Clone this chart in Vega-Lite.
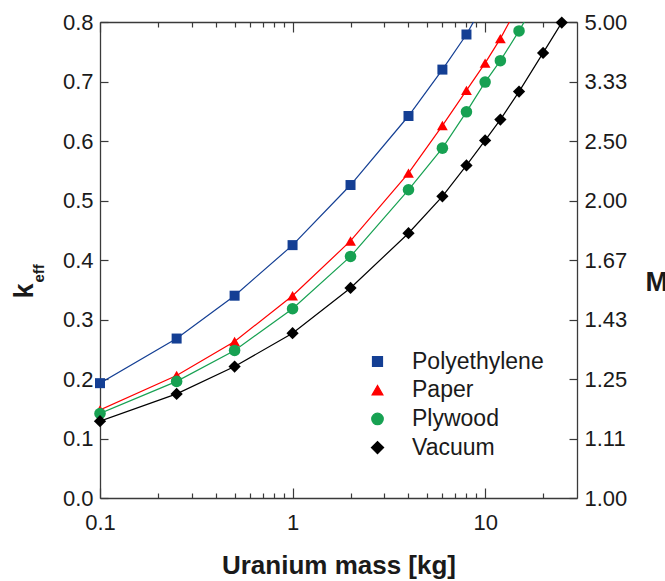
{
  "$schema": "https://vega.github.io/schema/vega-lite/v6.json",
  "width": 477,
  "height": 476,
  "autosize": {"type": "none"},
  "padding": {"left": 100, "top": 22, "right": 88, "bottom": 83},
  "background": "white",
  "config": {
    "view": {"stroke": null},
    "font": "Liberation Sans",
    "axis": {
      "grid": false,
      "domainColor": "#3a3a3a",
      "domainWidth": 1.3,
      "tickColor": "#3a3a3a",
      "tickWidth": 1.2,
      "labelFont": "Liberation Sans",
      "labelFontSize": 22,
      "labelColor": "#1a1a1a",
      "titleFont": "Liberation Sans",
      "titleColor": "#1a1a1a",
      "titleFontWeight": "bold"
    }
  },
  "data": {
    "values": [
      {"s": "Polyethylene", "m": 0.1, "k": 0.193},
      {"s": "Polyethylene", "m": 0.25, "k": 0.268},
      {"s": "Polyethylene", "m": 0.5, "k": 0.340},
      {"s": "Polyethylene", "m": 1, "k": 0.425},
      {"s": "Polyethylene", "m": 2, "k": 0.526},
      {"s": "Polyethylene", "m": 4, "k": 0.642},
      {"s": "Polyethylene", "m": 6, "k": 0.720},
      {"s": "Polyethylene", "m": 8, "k": 0.779},
      {"s": "Polyethylene", "m": 10, "k": 0.835},
      {"s": "Paper", "m": 0.1, "k": 0.148},
      {"s": "Paper", "m": 0.25, "k": 0.206},
      {"s": "Paper", "m": 0.5, "k": 0.263},
      {"s": "Paper", "m": 1, "k": 0.340},
      {"s": "Paper", "m": 2, "k": 0.432},
      {"s": "Paper", "m": 4, "k": 0.546},
      {"s": "Paper", "m": 6, "k": 0.626},
      {"s": "Paper", "m": 8, "k": 0.685},
      {"s": "Paper", "m": 10, "k": 0.731},
      {"s": "Paper", "m": 12, "k": 0.772},
      {"s": "Paper", "m": 15, "k": 0.830},
      {"s": "Plywood", "m": 0.1, "k": 0.142},
      {"s": "Plywood", "m": 0.25, "k": 0.196},
      {"s": "Plywood", "m": 0.5, "k": 0.248},
      {"s": "Plywood", "m": 1, "k": 0.318},
      {"s": "Plywood", "m": 2, "k": 0.406},
      {"s": "Plywood", "m": 4, "k": 0.518},
      {"s": "Plywood", "m": 6, "k": 0.588},
      {"s": "Plywood", "m": 8, "k": 0.649},
      {"s": "Plywood", "m": 10, "k": 0.699},
      {"s": "Plywood", "m": 12, "k": 0.735},
      {"s": "Plywood", "m": 15, "k": 0.785},
      {"s": "Plywood", "m": 20, "k": 0.855},
      {"s": "Vacuum", "m": 0.1, "k": 0.129},
      {"s": "Vacuum", "m": 0.25, "k": 0.175},
      {"s": "Vacuum", "m": 0.5, "k": 0.221},
      {"s": "Vacuum", "m": 1, "k": 0.277},
      {"s": "Vacuum", "m": 2, "k": 0.353},
      {"s": "Vacuum", "m": 4, "k": 0.445},
      {"s": "Vacuum", "m": 6, "k": 0.507},
      {"s": "Vacuum", "m": 8, "k": 0.559},
      {"s": "Vacuum", "m": 10, "k": 0.601},
      {"s": "Vacuum", "m": 12, "k": 0.636},
      {"s": "Vacuum", "m": 15, "k": 0.683},
      {"s": "Vacuum", "m": 20, "k": 0.748},
      {"s": "Vacuum", "m": 25, "k": 0.799}
    ]
  },
  "layer": [
    {
      "mark": {"type": "line", "clip": true, "strokeWidth": 1.2},
      "encoding": {
        "x": {
          "field": "m", "type": "quantitative",
          "scale": {"type": "log", "domain": [0.1, 30], "nice": false},
          "axis": {
            "orient": "bottom",
            "values": [0.1, 0.2, 0.3, 0.4, 0.5, 0.6, 0.7, 0.8, 0.9, 1, 2, 3, 4, 5, 6, 7, 8, 9, 10, 20],
            "labelExpr": "datum.value == 0.1 ? '0.1' : datum.value == 1 ? '1' : datum.value == 10 ? '10' : ''",
            "tickSize": {"condition": {"test": "datum.value == 0.1 || datum.value == 1 || datum.value == 10", "value": -10}, "value": -5},
            "labelPadding": 24,
            "labelFlush": false,
            "labelOverlap": false,
            "title": "Uranium mass [kg]",
            "titleFontSize": 26,
            "titleBaseline": "alphabetic",
            "titleY": 75
          }
        },
        "y": {
          "field": "k", "type": "quantitative",
          "scale": {"domain": [0, 0.8], "nice": false, "zero": false},
          "axis": {
            "orient": "left",
            "values": [0, 0.1, 0.2, 0.3, 0.4, 0.5, 0.6, 0.7, 0.8],
            "format": ".1f",
            "tickSize": -8,
            "labelPadding": 15,
            "labelFlush": false,
            "title": "k",
            "titleFontSize": 27,
            "titleAngle": -90,
            "titleAlign": "right",
            "titleBaseline": "alphabetic",
            "titleX": -68,
            "titleY": 261
          }
        },
        "color": {
          "field": "s", "type": "nominal",
          "scale": {"domain": ["Polyethylene", "Paper", "Plywood", "Vacuum"], "range": ["#143f94", "#ff0000", "#17a152", "#000000"]}
        }
      }
    },
    {
      "transform": [{"filter": "datum.k <= 0.801"}],
      "mark": {"type": "point", "filled": true, "opacity": 1},
      "encoding": {
        "x": {
          "field": "m", "type": "quantitative",
          "scale": {"type": "log", "domain": [0.1, 30], "nice": false},
          "axis": {
            "orient": "top",
            "values": [0.1, 0.2, 0.3, 0.4, 0.5, 0.6, 0.7, 0.8, 0.9, 1, 2, 3, 4, 5, 6, 7, 8, 9, 10, 20],
            "labels": false,
            "tickSize": {"condition": {"test": "datum.value == 0.1 || datum.value == 1 || datum.value == 10", "value": -10}, "value": -5},
            "title": "eff",
            "titleFontSize": 15,
            "titleAngle": -90,
            "titleAlign": "left",
            "titleBaseline": "alphabetic",
            "titleX": -57,
            "titleY": 260
          }
        },
        "y": {
          "field": "k", "type": "quantitative",
          "scale": {"domain": [0, 0.8], "nice": false, "zero": false},
          "axis": {
            "orient": "right",
            "values": [0, 0.1, 0.2, 0.3, 0.4, 0.5, 0.6, 0.7, 0.8],
            "labelExpr": "format(1/(1-datum.value), '.2f')",
            "tickSize": -8,
            "labelPadding": 15,
            "labelFlush": false,
            "title": "M",
            "titleFontSize": 27,
            "titleAngle": 0,
            "titleAlign": "left",
            "titleBaseline": "alphabetic",
            "titleX": 68,
            "titleY": 268
          }
        },
        "color": {
          "field": "s", "type": "nominal",
          "scale": {"domain": ["Polyethylene", "Paper", "Plywood", "Vacuum"], "range": ["#143f94", "#ff0000", "#17a152", "#000000"]},
          "legend": {
            "orient": "none",
            "legendX": 266,
            "legendY": 328,
            "title": null,
            "padding": 0,
            "labelFont": "Liberation Sans",
            "labelFontSize": 23,
            "labelColor": "#1a1a1a",
            "symbolSize": 144,
            "symbolStrokeWidth": 1.2,
            "labelOffset": 23,
            "rowPadding": 4.7
          }
        },
        "shape": {
          "field": "s", "type": "nominal",
          "scale": {"domain": ["Polyethylene", "Paper", "Plywood", "Vacuum"], "range": ["square", "triangle-up", "circle", "diamond"]}
        },
        "size": {
          "field": "s", "type": "nominal",
          "scale": {"domain": ["Polyethylene", "Paper", "Plywood", "Vacuum"], "range": [100, 150, 121, 170]},
          "legend": null
        }
      }
    }
  ],
  "resolve": {"axis": {"x": "independent", "y": "independent"}}
}
